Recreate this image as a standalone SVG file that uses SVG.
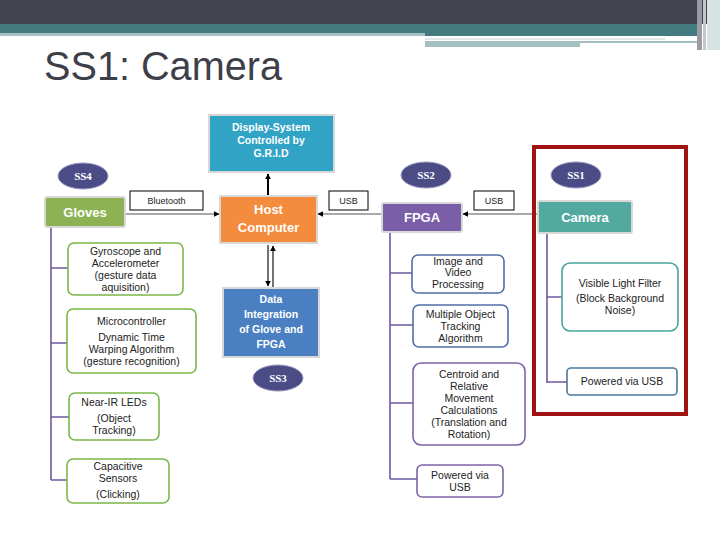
<svg xmlns="http://www.w3.org/2000/svg" width="720" height="540" viewBox="0 0 720 540">
<defs>
<marker id="ah" viewBox="0 0 10 10" refX="9" refY="5" markerWidth="6" markerHeight="6" orient="auto-start-reverse" markerUnits="userSpaceOnUse"><path d="M0,0 L10,5 L0,10 z" fill="#000"/></marker>
<style>
.main{stroke:#d8d8d8;stroke-width:2}
.mt{font-family:"Liberation Sans",Arial,sans-serif;font-weight:bold;fill:#fff;text-anchor:middle}
.sub{fill:#fff;stroke-width:1.6}
.st{font-family:"Liberation Sans",Arial,sans-serif;font-size:10.5px;fill:#222;text-anchor:middle}
.lbl{fill:#fff;stroke:#000;stroke-width:1}
.lt{font-family:"Liberation Sans",Arial,sans-serif;font-size:9px;fill:#222;text-anchor:middle}
.ss{fill:#4b4c86;stroke:#9a9ac0;stroke-width:1}
.sst{font-family:"Liberation Serif","Times New Roman",serif;font-weight:bold;font-size:11px;fill:#fff;text-anchor:middle}
.tree{fill:none;stroke:#6d58a3;stroke-width:1.6}
.conn{fill:none;stroke:#555;stroke-width:1.2}
.title{font-family:"Liberation Sans",Arial,sans-serif;font-size:41px;fill:#3f3f4a}
</style>
</defs>
<rect width="720" height="540" fill="#fff"/>
<g id="banner">
<rect x="0" y="0" width="720" height="24" fill="#42434f"/>
<rect x="0" y="24" width="700" height="12" fill="#437b80"/>
<rect x="0" y="33" width="425" height="3" fill="#a3bfc1"/>
<rect x="425" y="38" width="240" height="2" fill="#dfe9ea"/>
<rect x="425" y="41" width="155" height="6" fill="#a3bfc1"/>
<rect x="580" y="41" width="120" height="2" fill="#a3bfc1"/>
<rect x="697" y="0" width="5" height="50" fill="#9a9ba3"/>
<rect x="703" y="0" width="3" height="50" fill="#c4c5cc"/>
<rect x="707" y="0" width="13" height="50" fill="#d7e2e3"/>
</g>
<text class="title" x="44" y="80" textLength="238" lengthAdjust="spacingAndGlyphs">SS1: Camera</text>
<g id="connectors">
<path class="tree" d="M51,227 V480 M51,268 H68 M51,343 H67 M51,417 H69 M51,480 H67"/>
<path class="tree" d="M390,232 V479 M390,273 H412 M390,325 H413 M390,403 H413 M390,479 H417"/>
<path class="tree" d="M547,233 V383 M547,297 H562 M547,382 H567"/>
<line class="conn" x1="126" y1="214" x2="219" y2="214" marker-end="url(#ah)"/>
<line class="conn" x1="381" y1="214" x2="318" y2="214" marker-end="url(#ah)"/>
<line class="conn" x1="537" y1="214" x2="463" y2="214" marker-end="url(#ah)"/>
<line x1="268" y1="195" x2="268" y2="174" stroke="#000" stroke-width="2" marker-end="url(#ah)"/>
<line x1="268" y1="245" x2="268" y2="286" stroke="#444" stroke-width="1.5" marker-end="url(#ah)"/>
<line x1="273" y1="287" x2="273" y2="246" stroke="#444" stroke-width="1.5" marker-end="url(#ah)"/>
</g>
<g id="label-bluetooth"><rect class="lbl" x="130" y="191" width="73" height="19"/><text class="lt" x="166.5" y="204">Bluetooth</text></g>
<g id="label-usb1"><rect class="lbl" x="329" y="191" width="39" height="19"/><text class="lt" x="348.5" y="204">USB</text></g>
<g id="label-usb2"><rect class="lbl" x="474" y="191" width="40" height="19"/><text class="lt" x="494" y="204">USB</text></g>
<g id="display"><rect class="main" x="209" y="115" width="125" height="57" fill="#31a4c6"/>
<text class="mt" font-size="10.5" x="271" y="131">Display-System</text><text class="mt" font-size="10.5" x="271" y="144">Controlled by</text><text class="mt" font-size="10.5" x="271" y="157">G.R.I.D</text></g>
<g id="host"><rect class="main" x="220" y="196" width="97" height="47" fill="#f58b3c"/>
<text class="mt" font-size="13" x="268.5" y="214">Host</text><text class="mt" font-size="13" x="268.5" y="232">Computer</text></g>
<g id="data"><rect class="main" x="223" y="288" width="96" height="69" fill="#4a80c2"/>
<text class="mt" font-size="10.5" x="271" y="303">Data</text><text class="mt" font-size="10.5" x="271" y="318">Integration</text><text class="mt" font-size="10.5" x="271" y="333">of Glove and</text><text class="mt" font-size="10.5" x="271" y="348">FPGA</text></g>
<g id="gloves"><rect class="main" x="45" y="197" width="80" height="30" rx="2" fill="#8db253"/><text class="mt" font-size="13" x="85" y="217">Gloves</text></g>
<g id="fpga"><rect class="main" x="382" y="203" width="80" height="29" rx="2" fill="#7b5ea8"/><text class="mt" font-size="13" x="422" y="222">FPGA</text></g>
<g id="camera"><rect class="main" x="538" y="201" width="94" height="32" rx="2" fill="#52a9a0"/><text class="mt" font-size="13" x="585" y="222">Camera</text></g>
<g id="ss4"><ellipse class="ss" cx="83" cy="176" rx="25" ry="13"/><text class="sst" x="83" y="180">SS4</text></g>
<g id="ss2"><ellipse class="ss" cx="426" cy="175" rx="25" ry="13"/><text class="sst" x="426" y="179">SS2</text></g>
<g id="ss1"><ellipse class="ss" cx="576" cy="175" rx="25" ry="13"/><text class="sst" x="576" y="179">SS1</text></g>
<g id="ss3"><ellipse class="ss" cx="278" cy="378" rx="25" ry="13"/><text class="sst" x="278" y="382">SS3</text></g>
<g id="gyro"><rect class="sub" x="68" y="243" width="115" height="52" rx="6" stroke="#7ab648"/>
<text class="st" x="125.5" y="255">Gyroscope and</text><text class="st" x="125.5" y="267">Accelerometer</text><text class="st" x="125.5" y="279">(gesture data</text><text class="st" x="125.5" y="291">aquisition)</text></g>
<g id="micro"><rect class="sub" x="67" y="309" width="129" height="64" rx="6" stroke="#7ab648"/>
<text class="st" x="131.5" y="325">Microcontroller</text><text class="st" x="131.5" y="341">Dynamic Time</text><text class="st" x="131.5" y="353">Warping Algorithm</text><text class="st" x="131.5" y="365">(gesture recognition)</text></g>
<g id="nearir"><rect class="sub" x="69" y="393" width="90" height="47" rx="6" stroke="#7ab648"/>
<text class="st" x="114" y="406">Near-IR LEDs</text><text class="st" x="114" y="422">(Object</text><text class="st" x="114" y="434">Tracking)</text></g>
<g id="capacitive"><rect class="sub" x="67" y="459" width="102" height="44" rx="6" stroke="#7ab648"/>
<text class="st" x="118" y="470">Capacitive</text><text class="st" x="118" y="482">Sensors</text><text class="st" x="118" y="498">(Clicking)</text></g>
<g id="image"><rect class="sub" x="412" y="255" width="92" height="38" rx="6" stroke="#4f6fa8"/>
<text class="st" x="458" y="265">Image and</text><text class="st" x="458" y="276">Video</text><text class="st" x="458" y="288">Processing</text></g>
<g id="mot"><rect class="sub" x="413" y="305" width="95" height="42" rx="6" stroke="#4f6fa8"/>
<text class="st" x="460.5" y="318">Multiple Object</text><text class="st" x="460.5" y="330">Tracking</text><text class="st" x="460.5" y="342">Algorithm</text></g>
<g id="centroid"><rect class="sub" x="413" y="363" width="112" height="82" rx="8" stroke="#7f63a8"/>
<text class="st" x="469" y="378">Centroid and</text><text class="st" x="469" y="390">Relative</text><text class="st" x="469" y="402">Movement</text><text class="st" x="469" y="414">Calculations</text><text class="st" x="469" y="426">(Translation and</text><text class="st" x="469" y="438">Rotation)</text></g>
<g id="powered2"><rect class="sub" x="417" y="465" width="86" height="32" rx="5" stroke="#7f63a8"/>
<text class="st" x="460" y="479">Powered via</text><text class="st" x="460" y="491">USB</text></g>
<g id="visible"><rect class="sub" x="562" y="263" width="116" height="68" rx="8" stroke="#4aa59d"/>
<text class="st" x="620" y="287">Visible Light Filter</text><text class="st" x="620" y="302">(Block Background</text><text class="st" x="620" y="314">Noise)</text></g>
<g id="powered1"><rect class="sub" x="567" y="368" width="110" height="27" rx="4" stroke="#4a7a9a"/>
<text class="st" x="622" y="385">Powered via USB</text></g>
<g id="highlight"><rect x="534" y="147" width="152" height="267" fill="none" stroke="#a01414" stroke-width="4"/></g>
</svg>
